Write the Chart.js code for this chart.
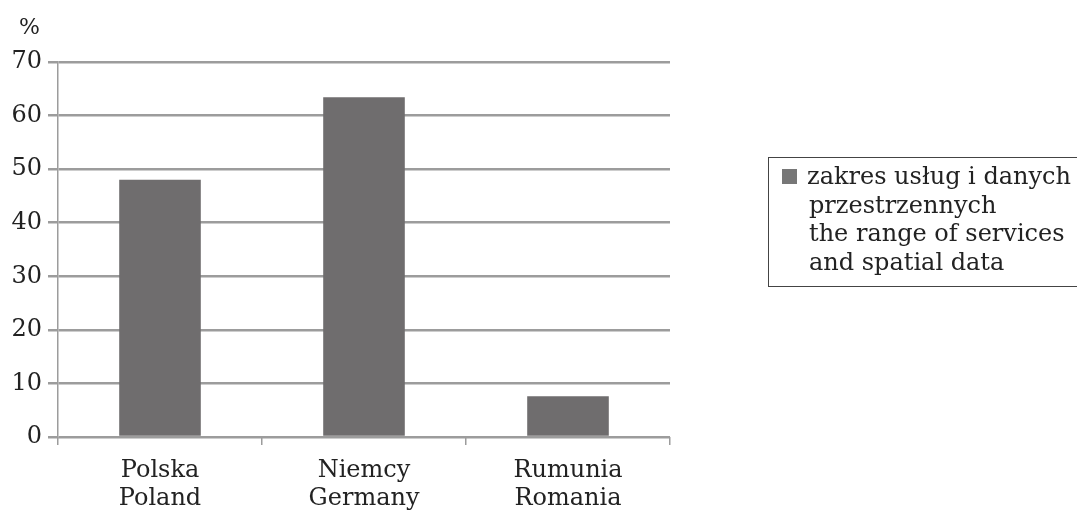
<!DOCTYPE html>
<html>
<head>
<meta charset="utf-8">
<script src="https://cdn.jsdelivr.net/npm/chart.js@4/dist/chart.umd.min.js"></script>
<style>
  body { margin: 0; background: #fff; }
  #wrap { position: relative; width: 1077px; height: 514px; overflow: hidden; }
  #unit { position: absolute; left: 19px; top: 14px; font: 22px "DejaVu Serif", serif; color: #222; }
  #legend {
    position: absolute; left: 768px; top: 157px; width: 330px; height: 130px;
    border: 1.5px solid #444; box-sizing: border-box;
    font: 24px "DejaVu Serif", serif; color: #222; line-height: 28.5px;
    padding: 4px 0 0 13px;
  }
  #legend .sw { display: inline-block; width: 15px; height: 15px; background: #777; margin-right: 10px; }
  #legend .ln { padding-left: 27px; }
</style>
</head>
<body>
<div id="wrap">
  <canvas id="chart" width="1077" height="514"></canvas>
  <div id="unit">%</div>
  <div id="legend">
    <div><span class="sw"></span>zakres usług i danych</div>
    <div class="ln">przestrzennych</div>
    <div class="ln">the range of services</div>
    <div class="ln">and spatial data</div>
  </div>
</div>
<script>
const categories = [['Polska', 'Poland'], ['Niemcy', 'Germany'], ['Rumunia', 'Romania']];
const values = [48, 63.4, 7.6];
const seriesName = 'zakres usług i danych przestrzennych / the range of services and spatial data';

const gridColor = '#9c9c9c';
const barColor = '#6f6d6e';

new Chart(document.getElementById('chart').getContext('2d'), {
    type: 'bar',
    data: {
        labels: categories,
        datasets: [{
            label: seriesName,
            data: values,
            backgroundColor: barColor,
            borderWidth: 0,
            categoryPercentage: 1,
            barPercentage: 0.4
        }]
    },
    options: {
        responsive: false,
        animation: false,
        layout: { padding: { top: 62, right: 407, bottom: 0, left: 0 } },
        plugins: { legend: { display: false }, tooltip: { enabled: false } },
        scales: {
            x: {
                afterFit: function(scale) { scale.height = 77; },
                border: { display: false },
                grid: {
                    offset: true,
                    drawOnChartArea: false,
                    drawTicks: true,
                    tickLength: 8,
                    color: gridColor,
                    lineWidth: 1.5
                },
                ticks: {
                    color: '#222',
                    padding: 12,
                    font: { family: 'DejaVu Serif', size: 24, lineHeight: 1.17 }
                }
            },
            y: {
                min: 0,
                max: 70,
                afterFit: function(scale) { scale.width = 58; },
                border: { display: true, color: gridColor, width: 1.5 },
                grid: {
                    color: gridColor,
                    lineWidth: 2.5,
                    drawTicks: true,
                    tickLength: 10
                },
                ticks: {
                    stepSize: 10,
                    color: '#222',
                    padding: 6,
                    font: { family: 'DejaVu Serif', size: 24 }
                }
            }
        }
    }
});
</script>
</body>
</html>
